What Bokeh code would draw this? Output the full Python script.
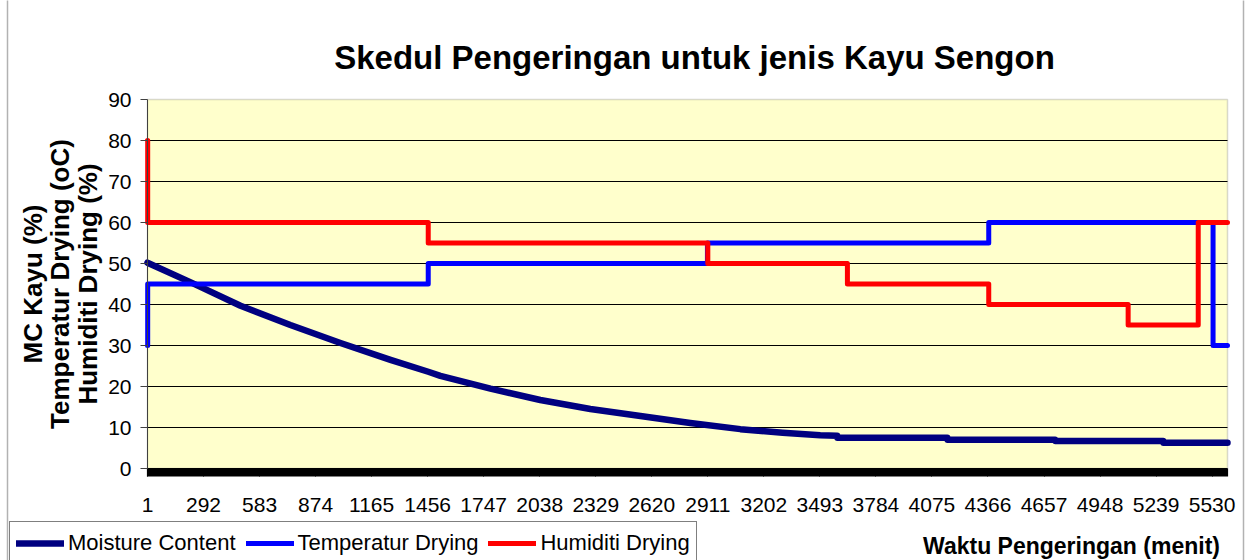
from bokeh.plotting import figure
from bokeh.models import (Range1d, FixedTicker, Label, Legend, LegendItem,
                          BoxAnnotation)
from bokeh.embed import file_html
from bokeh.resources import INLINE
import math

# ---------------- data ----------------
x_tick_labels = [1, 292, 583, 874, 1165, 1456, 1747, 2038, 2329, 2620,
                 2911, 3202, 3493, 3784, 4075, 4366, 4657, 4948, 5239, 5530]
y_ticks = [0, 10, 20, 30, 40, 50, 60, 70, 80, 90]

mc_minutes = [1, 240, 484, 743, 1003, 1263, 1459, 1522, 1782, 2041, 2301,
              2561, 2820, 3080, 3300, 3495, 3583, 3584, 4155, 4156, 4715,
              4716, 5276, 5277, 5610]
mc_values = [50.2, 45.1, 39.7, 35.0, 30.6, 26.5, 23.6, 22.6, 19.5, 16.7,
             14.5, 12.8, 11.1, 9.6, 8.7, 8.1, 8.0, 7.5, 7.5, 7.0, 7.0, 6.7,
             6.7, 6.3, 6.3]

temp_minutes = [1, 2, 1459, 2909, 4370, 5535, 5610]
temp_values = [30, 45, 50, 55, 60, 30, 30]

hum_minutes = [1, 2, 1459, 2911, 3636, 4370, 5094, 5458, 5610]
hum_values = [80, 60, 55, 50, 45, 40, 35, 60, 60]

title_text = "Skedul Pengeringan untuk jenis Kayu Sengon"
y_title_lines = ["MC Kayu (%)", "Temperatur Drying (oC)", "Humiditi Drying (%)"]
x_title = "Waktu Pengeringan (menit)"
series_names = ["Moisture Content", "Temperatur Drying", "Humiditi Drying"]

# ---------------- layout (pixels) ----------------
W, H = 1256, 560
PL, PR, PT, PB = 147, 1227, 99, 468          # plot-area edges on the page
X_START, X_END = 1, 5610
Y_START, Y_END = 0, 90

sx = (PR - PL) / (X_END - X_START)
sy = (PB - PT) / (Y_END - Y_START)
x0 = X_START - PL / sx
x1 = x0 + W / sx
y0 = Y_START - (H - PB) / sy
y1 = y0 + H / sy

p = figure(width=W, height=H, min_border=0,
           x_range=Range1d(x0, x1), y_range=Range1d(y0, y1),
           output_backend="svg", toolbar_location=None, title=None)
p.background_fill_color = "white"
p.border_fill_color = "white"
p.outline_line_color = None
p.grid.visible = False

# plot-area background
p.add_layout(BoxAnnotation(left=X_START, right=X_END, bottom=Y_START, top=Y_END,
                           fill_color="#FFFFCC", fill_alpha=1,
                           line_color=None, level="image"))

# horizontal gridlines inside the plot area
grid_y = y_ticks[1:-1]
p.segment(x0=[X_START] * len(grid_y), x1=[X_END] * len(grid_y),
          y0=grid_y, y1=grid_y, line_color="black", line_width=1)

# plot-area outline (top / right grey)
p.add_layout(BoxAnnotation(left=X_START, right=X_END, bottom=Y_START, top=Y_END,
                           fill_alpha=0, line_color="#808080", line_width=1.5,
                           level="underlay"))

# x axis
xa = p.xaxis[0]
xa.fixed_location = Y_START
xa.bounds = (X_START, X_END)
xa.ticker = FixedTicker(ticks=x_tick_labels,
                        minor_ticks=list(range(X_START, X_END + 1, 4)))
xa.major_tick_out = 8
xa.major_tick_in = 0
xa.minor_tick_out = 8
xa.minor_tick_in = 0
xa.minor_tick_line_color = "black"
xa.minor_tick_line_width = 1.2
xa.major_tick_line_color = "black"
xa.axis_line_color = "black"
xa.major_label_text_font = "Liberation Sans"
xa.major_label_text_font_size = "21px"
xa.major_label_text_color = "black"
xa.major_label_standoff = 21

# y axis
ya = p.yaxis[0]
ya.fixed_location = X_START
ya.bounds = (Y_START, Y_END)
ya.ticker = FixedTicker(ticks=y_ticks)
ya.major_tick_out = 7
ya.major_tick_in = 0
ya.minor_tick_line_color = None
ya.axis_line_color = "#404040"
ya.major_tick_line_color = "#404040"
ya.major_label_text_font = "Liberation Sans"
ya.major_label_text_font_size = "21px"
ya.major_label_text_color = "black"
ya.major_label_standoff = 9

# ---------------- series ----------------
r_mc = p.line(mc_minutes, mc_values, line_color="#000080", line_width=6.5,
              line_join="round", line_cap="round")
r_t = p.step(temp_minutes, temp_values, mode="after", line_color="#0000FF",
             line_width=5, line_join="round", line_cap="round")
r_h = p.step(hum_minutes, hum_values, mode="after", line_color="#FF0000",
             line_width=5, line_join="round", line_cap="round")

legend = Legend(items=[LegendItem(label=series_names[0], renderers=[r_mc]),
                       LegendItem(label=series_names[1], renderers=[r_t]),
                       LegendItem(label=series_names[2], renderers=[r_h])],
                orientation="horizontal", location=(9, H - 565),
                glyph_width=48, glyph_height=30, label_height=30,
                label_standoff=4, spacing=10, padding=6, margin=0,
                label_text_font="Liberation Sans",
                label_text_font_size="22px", label_text_color="black",
                border_line_color="black", border_line_width=1,
                background_fill_color="white", background_fill_alpha=1)
p.add_layout(legend, "center")

# ---------------- texts (page pixels, y measured from bottom) ----------------
p.add_layout(Label(x=694, y=H - 57, x_units="screen", y_units="screen",
                   text=title_text, text_align="center",
                   text_baseline="middle", text_font="Liberation Sans",
                   text_font_style="bold", text_font_size="33px",
                   text_color="black"))

for txt, xpos in zip(y_title_lines, [32, 59, 87]):
    p.add_layout(Label(x=xpos, y=H - 283.5, x_units="screen", y_units="screen",
                       text=txt, angle=math.pi / 2, text_align="center",
                       text_baseline="middle", text_font="Liberation Sans",
                       text_font_style="bold", text_font_size="26px",
                       text_color="black"))

p.add_layout(Label(x=1071, y=H - 545, x_units="screen", y_units="screen",
                   text=x_title, text_align="center", text_baseline="middle",
                   text_font="Liberation Sans", text_font_style="bold",
                   text_font_size="23px", text_color="black"))

# chart-area border
p.add_layout(BoxAnnotation(left=7, right=1243, top=H + 10, bottom=-10,
                           left_units="screen", right_units="screen",
                           top_units="screen", bottom_units="screen",
                           fill_alpha=0, line_color="black", line_width=1.5))

open("out.html", "w").write(file_html(p, INLINE))
